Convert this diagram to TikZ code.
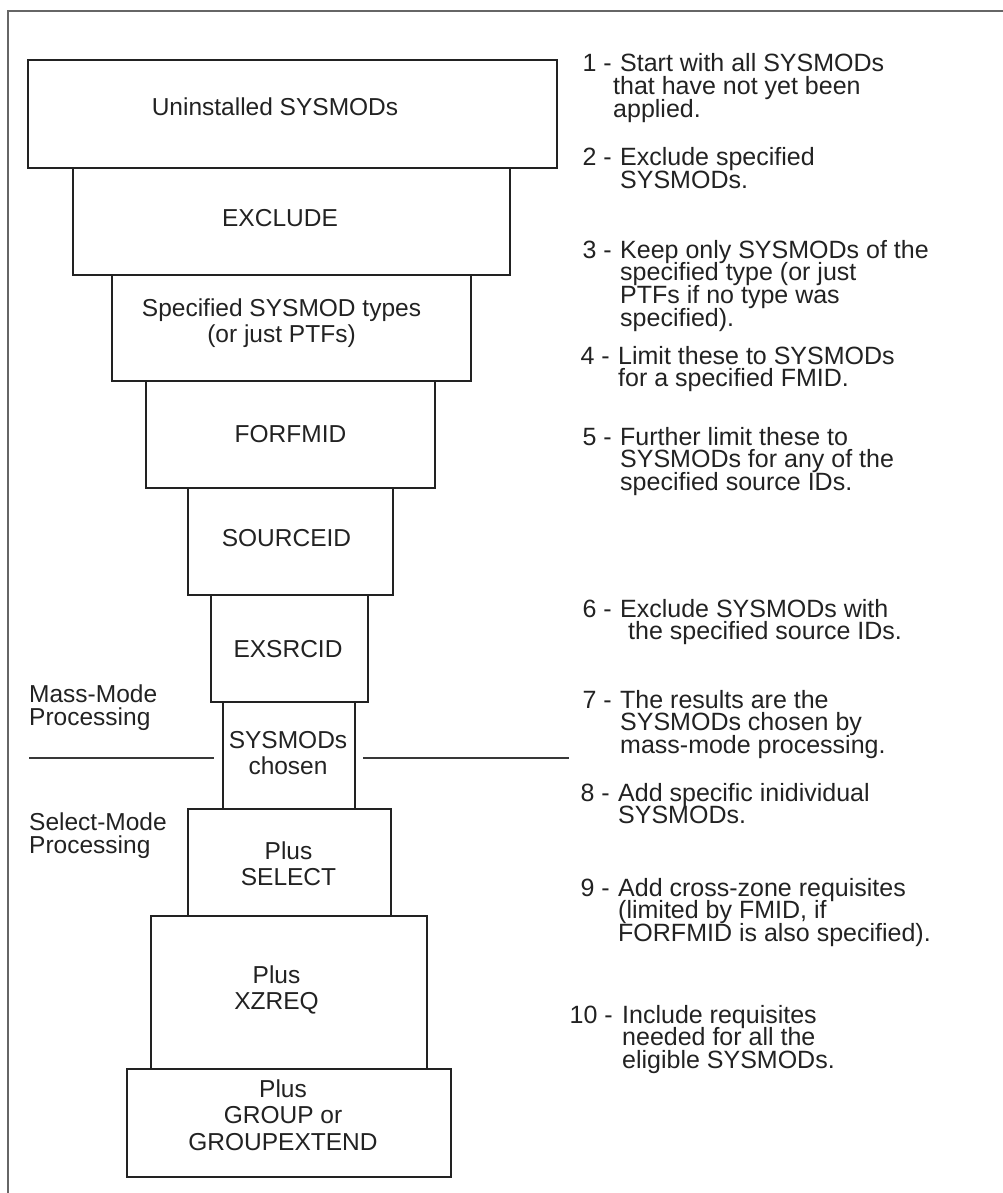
\documentclass[tikz,border=0pt]{standalone}
\usepackage{fontspec}
\setmainfont{Liberation Sans}
\newcommand\cstack[1]{\vtop{\baselineskip=26.5pt\lineskiplimit=-50pt\lineskip=0pt\halign{\hfil##\hfil\cr#1\crcr}}}
\newcommand\lstack[2]{\vtop{\baselineskip=#1\lineskiplimit=-50pt\lineskip=0pt\halign{##\hfil\cr#2\crcr}}}
\definecolor{ink}{HTML}{222222}
\definecolor{framegray}{HTML}{666666}
\begin{document}
\begin{tikzpicture}[x=1pt,y=-1pt,
  every node/.style={font=\fontsize{24.5}{26.5}\selectfont, text=ink, inner sep=0pt},
  stackbox/.style={draw=ink, line width=2.4pt, rectangle, anchor=center},
  boxtext/.style={anchor=base},
  sidetext/.style={anchor=base west},
  desctext/.style={anchor=base west, font=\fontsize{25}{22.7}\selectfont},
  numtext/.style={anchor=base east, font=\fontsize{25}{22.7}\selectfont},
  rule/.style={draw=ink!90, line width=1.8pt},
  frameline/.style={draw=framegray, line width=1.6pt}]
\useasboundingbox (0,0) rectangle (1003,1193);

% outer frame (top and left sides visible)
\coordinate (fbl) at (8,1193);
\coordinate (ftl) at (8,11);
\coordinate (ftr) at (1003,11);
\draw[frameline] (fbl) -- (ftl) -- (ftr);

% stacked boxes
\node[stackbox, minimum width=529, minimum height=108] (b1) at (292.5,114) {};
\node[stackbox, minimum width=437, minimum height=107] (b2) at (291.5,221.5) {};
\node[stackbox, minimum width=359, minimum height=106] (b3) at (291.5,328) {};
\node[stackbox, minimum width=289, minimum height=107] (b4) at (290.5,434.5) {};
\node[stackbox, minimum width=205, minimum height=107] (b5) at (290.5,541.5) {};
\node[stackbox, minimum width=157, minimum height=107] (b6) at (289.5,648.5) {};
\node[stackbox, minimum width=132, minimum height=107] (b7) at (289,755.5) {};
\node[stackbox, minimum width=203, minimum height=107] (b8) at (289.5,862.5) {};
\node[stackbox, minimum width=276, minimum height=153] (b9) at (289,992.5) {};
\node[stackbox, minimum width=324, minimum height=108] (b10) at (289,1123) {};

% box texts
\node[boxtext] (t1) at (275,116) {\cstack{Uninstalled SYSMODs}};
\node[boxtext] (t2) at (280,226) {\cstack{EXCLUDE}};
\node[boxtext] (t3) at (281.5,316) {\cstack{Specified SYSMOD types\cr (or just PTFs)}};
\node[boxtext] (t4) at (290.5,442) {\cstack{FORFMID}};
\node[boxtext] (t5) at (286.5,546) {\cstack{SOURCEID}};
\node[boxtext] (t6) at (288,657) {\cstack{EXSRCID}};
\node[boxtext] (t7) at (288,748) {\cstack{SYSMODs\cr chosen}};
\node[boxtext] (t8) at (288.5,859) {\cstack{Plus\cr SELECT}};
\node[boxtext] (t9) at (276.5,983) {\cstack{Plus\cr XZREQ}};
\node[boxtext] (t10) at (283,1097) {\cstack{Plus\cr GROUP or\cr GROUPEXTEND}};

% mode labels
\node[sidetext] (mass) at (29,702) {\lstack{23pt}{Mass-Mode\cr Processing}};
\node[sidetext] (sel) at (29,830) {\lstack{23pt}{Select-Mode\cr Processing}};

% dividing rule
\coordinate (hl) at (29,758);
\coordinate (hr) at (569,758);
\draw[rule, shorten >=8pt] (hl) -- (hl -| b7.west);
\draw[rule, shorten <=7pt] (hr -| b7.east) -- (hr);

% numbered descriptions
\node[numtext] (n1) at (612,72) {1 -};
\node[desctext] (d1) at (620,72) {\lstack{22.7pt}{Start with all SYSMODs\cr \kern-7pt that have not yet been\cr \kern-7pt applied.}};
\node[numtext] (n2) at (612,166) {2 -};
\node[desctext] (d2) at (620,166) {\lstack{22.7pt}{Exclude specified\cr SYSMODs.}};
\node[numtext] (n3) at (612,258) {3 -};
\node[desctext] (d3) at (620,258) {\lstack{22.7pt}{Keep only SYSMODs of\ the\cr specified type (or just\cr PTFs if\ no type was\cr specified).}};
\node[numtext] (n4) at (610,364) {4 -};
\node[desctext] (d4) at (618,364) {\lstack{22.7pt}{Limit these to SYSMODs\cr for a specified FMID.}};
\node[numtext] (n5) at (612,445) {5 -};
\node[desctext] (d5) at (620,445) {\lstack{22.7pt}{Further limit these to\cr SYSMODs for any of\ the\cr specified source IDs.}};
\node[numtext] (n6) at (612,617) {6 -};
\node[desctext] (d6) at (620,617) {\lstack{22.7pt}{Exclude SYSMODs with\cr \kern8pt the specified source IDs.}};
\node[numtext] (n7) at (612,708) {7 -};
\node[desctext] (d7) at (620,708) {\lstack{22.7pt}{The results are the\cr SYSMODs chosen by\cr mass-mode processing.}};
\node[numtext] (n8) at (610,801) {8 -};
\node[desctext] (d8) at (618,801) {\lstack{22.7pt}{Add specific inidividual\cr SYSMODs.}};
\node[numtext] (n9) at (610,896) {9 -};
\node[desctext] (d9) at (618,896) {\lstack{22.7pt}{Add cross-zone requisites\cr (limited by FMID, if\cr FORFMID is also specified).}};
\node[numtext] (n10) at (613,1023) {10 -};
\node[desctext] (d10) at (622,1023) {\lstack{22.7pt}{Include requisites\cr needed for all the\cr eligible SYSMODs.}};
\end{tikzpicture}
\end{document}
